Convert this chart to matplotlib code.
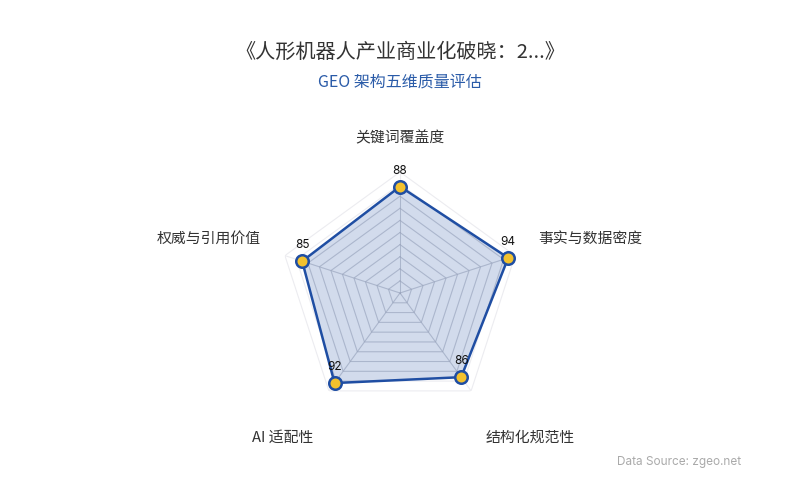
import numpy as np
import matplotlib
matplotlib.use("Agg")
import matplotlib.pyplot as plt

plt.rcParams['font.family'] = ['Noto Sans CJK SC', 'DejaVu Sans']

title = "《人形机器人产业商业化破晓：2...》"
subtitle = "GEO 架构五维质量评估"
categories = ["关键词覆盖度", "事实与数据密度", "结构化规范性", "AI 适配性", "权威与引用价值"]
values = [88, 94, 86, 92, 85]
rmax = 100
rings = [10, 20, 30, 40, 50, 60, 70, 80, 90, 100]
source = "Data Source: zgeo.net"

fig = plt.figure(figsize=(8, 5), dpi=100)
ax = fig.add_axes([0.34875, 0.172, 0.3025, 0.484], projection='polar')
ax.set_theta_offset(np.pi / 2)
ax.set_theta_direction(-1)
ax.set_ylim(0, rmax)
ax.grid(False)
ax.set_xticks([])
ax.set_yticks([])
ax.spines['polar'].set_visible(False)
ax.patch.set_alpha(0)

n = len(categories)
theta = np.arange(n) * 2 * np.pi / n
tc = np.append(theta, theta[0])

# faint grid (outside fill)
for r in rings:
    ax.plot(tc, [r] * (n + 1), color='#ececf0', lw=0.8, zorder=1)
for t in theta:
    ax.plot([t, t], [0, rmax], color='#ececf0', lw=0.8, zorder=1)

vc = values + values[:1]
fillp = ax.fill(tc, vc, color='#1f4ea3', alpha=0.2, zorder=2, lw=0)[0]

# grid visible inside the filled area
for r in rings:
    ln, = ax.plot(tc, [r] * (n + 1), color='#8e9ab3', lw=0.7, alpha=0.45, zorder=3)
    ln.set_clip_path(fillp)
for t in theta:
    ln, = ax.plot([t, t], [0, rmax], color='#8e9ab3', lw=0.7, alpha=0.45, zorder=3)
    ln.set_clip_path(fillp)

ax.plot(tc, vc, color='#1f4ea3', lw=1.8, zorder=4)
ax.plot(theta, values, 'o', ms=9, mfc='#f2c12e', mec='#1f4ea3', mew=1.8, zorder=5, clip_on=False)

for t, v in zip(theta, values):
    ax.annotate(str(v), (t, v), xytext=(0, 7), textcoords='offset points',
                ha='center', va='bottom', fontsize=8.5, color='#111111',
                family=['Inter', 'DejaVu Sans'], zorder=6, annotation_clip=False)

# category labels: offsets (pixels) from the outer vertex
label_off = [(0, 34), (23, 17), (59, -47), (-46, -47), (-24, 17)]
label_ha = ['center', 'left', 'center', 'center', 'right']
for t, lab, off, ha in zip(theta, categories, label_off, label_ha):
    ax.annotate(lab, (t, rmax), xytext=(off[0] * 0.72, off[1] * 0.72), textcoords='offset points',
                ha=ha, va='center', fontsize=10.7, color='#333333', annotation_clip=False)

fig.text(0.5, 1 - 52 / 500, title, ha='center', va='center', fontsize=14.5, color='#333333')
fig.text(0.5, 1 - 82 / 500, subtitle, ha='center', va='center', fontsize=11.5, color='#2a5ba8')
fig.text(741 / 800, 1 - 462 / 500, source, ha='right', va='center', fontsize=8.5,
         color='#aaaaaa', family=['Inter', 'DejaVu Sans'])

fig.savefig('out.png', dpi=100)
